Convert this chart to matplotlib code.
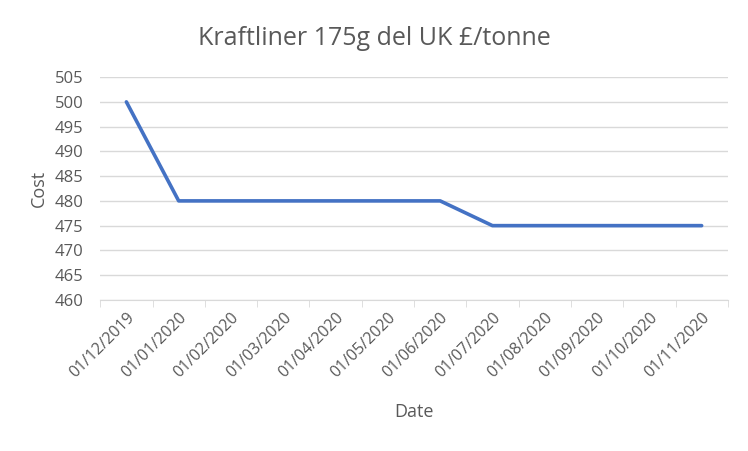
import numpy as np
import matplotlib.pyplot as plt

plt.rcParams['font.family'] = ['Open Sans', 'DejaVu Sans']

dates = ["01/12/2019", "01/01/2020", "01/02/2020", "01/03/2020", "01/04/2020",
         "01/05/2020", "01/06/2020", "01/07/2020", "01/08/2020", "01/09/2020",
         "01/10/2020", "01/11/2020"]
cost = [500, 480, 480, 480, 480, 480, 480, 475, 475, 475, 475, 475]

txt = "#595959"
fig = plt.figure(figsize=(7.48, 4.51), dpi=100)
ax = fig.add_axes([0.134, 0.335, 0.839, 0.494])

x = np.arange(len(dates))
ax.plot(x, cost, color="#4472C4", linewidth=2.6, solid_capstyle="round", zorder=3)

ax.set_xlim(-0.5, len(dates) - 0.5)
ax.set_ylim(460, 505)
ax.set_yticks(np.arange(460, 506, 5))
ax.grid(axis="y", color="#D9D9D9", linewidth=1)
ax.set_xticks(x)
ax.set_xticklabels(dates, rotation=45, ha="right", rotation_mode="anchor", color=txt, fontsize=11.5)
ax.set_xticks(np.arange(-0.5, len(dates), 1), minor=True)
ax.tick_params(axis="x", which="major", length=0, pad=7)
ax.tick_params(axis="x", which="minor", length=5, color="#D9D9D9")
ax.tick_params(axis="y", length=0, labelcolor=txt, labelsize=12, pad=12)
for s in ["top", "right", "left"]:
    ax.spines[s].set_visible(False)
ax.spines["bottom"].set_color("#D9D9D9")

fig.suptitle("Kraftliner 175g del UK £/tonne", color=txt, fontsize=18, x=0.5, y=0.915, va="center")
ax.set_xlabel("Date", color=txt, fontsize=13, labelpad=16)
ax.set_ylabel("Cost", color=txt, fontsize=13, labelpad=5)

fig.savefig("out.png", dpi=100)
